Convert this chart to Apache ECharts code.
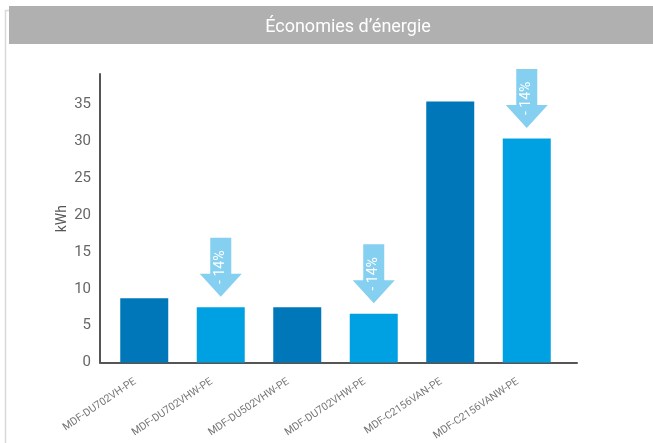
<!DOCTYPE html>
<html>
<head>
<meta charset="utf-8">
<script src="https://cdn.jsdelivr.net/npm/echarts@6/dist/echarts.min.js"></script>
<style>
html,body{margin:0;padding:0;background:#fff;}
#c{width:653px;height:443px;}
</style>
</head>
<body>
<div id="c"></div>
<script>
var categories = ['MDF-DU702VH-PE','MDF-DU702VHW-PE','MDF-DU502VHW-PE','MDF-DU702VHW-PE','MDF-C2156VAN-PE','MDF-C2156VANW-PE'];
var values = [8.7, 7.5, 7.5, 6.6, 35.4, 30.4];
var arrowValues = [null, 7.5, null, 6.6, null, 30.4];
var arrowLabels = ['', '- 14%', '', '- 14%', '', '- 14%'];
var yTicks = [0, 5, 10, 15, 20, 25, 30, 35];

var FONT = "'Liberation Sans Narrow', 'Roboto', sans-serif";
var chart = echarts.init(document.getElementById('c'));
var arrowPath = 'path://M10.5 0 L31.5 0 L31.5 36 L42 36 L21 59 L0 36 L10.5 36 Z';

chart.setOption({
  animation: false,
  backgroundColor: '#fff',
  graphic: [
    {type: 'polyline', shape: {points: [[9, 10.5], [5.5, 10.5], [5.5, 443]]}, style: {stroke: '#d9d9d9', lineWidth: 1.5, fill: null}, silent: true},
    {type: 'rect', shape: {x: 9, y: 6, width: 644, height: 38}, style: {fill: '#b0b0b0'}, silent: true},
    {type: 'text', x: 348, y: 27, style: {text: 'Économies d’énergie', fill: '#fff', font: '18px ' + FONT, align: 'center', verticalAlign: 'middle'}, silent: true}
  ],
  grid: [
    {left: 106, right: 88, top: 75, bottom: 80.5},
    {left: 100, right: 76, top: 74, bottom: 80.5}
  ],
  xAxis: [
    {type: 'category', gridIndex: 0, data: categories,
     axisLine: {show: false}, axisTick: {show: false},
     axisLabel: {rotate: 34, margin: 12, fontSize: 10.5, color: '#777', fontFamily: FONT, interval: 0, padding: [0, 11, 0, 0]}},
    {type: 'value', gridIndex: 1, min: 0, max: 1,
     axisLine: {show: true, lineStyle: {color: '#555', width: 2}}, axisTick: {show: false},
     axisLabel: {show: false}, splitLine: {show: false}}
  ],
  yAxis: [
    {type: 'value', gridIndex: 0, min: yTicks[0], max: 39, interval: yTicks[1] - yTicks[0],
     axisLine: {show: false}, axisTick: {show: false}, splitLine: {show: false},
     axisLabel: {showMaxLabel: false, margin: 15, fontSize: 15, color: '#666', fontFamily: FONT, padding: [4, 0, 0, 0],
       formatter: function (v) { return yTicks.indexOf(v) >= 0 ? String(v) : ''; }},
     name: 'kWh', nameLocation: 'middle', nameGap: 37, nameRotate: 90, nameMoveOverlap: false,
     nameTextStyle: {fontSize: 14, color: '#555', fontFamily: FONT}},
    {type: 'value', gridIndex: 1, min: 0, max: 1,
     axisLine: {show: true, lineStyle: {color: '#555', width: 2}}, axisTick: {show: false},
     axisLabel: {show: false}, splitLine: {show: false}}
  ],
  series: [
    {type: 'bar', xAxisIndex: 0, yAxisIndex: 0, data: values, barWidth: 48,
     itemStyle: {color: function (p) { return p.dataIndex % 2 === 0 ? '#0077b8' : '#00a1e3'; }}},
    {type: 'scatter', xAxisIndex: 0, yAxisIndex: 0, data: arrowValues,
     symbol: arrowPath, symbolSize: [42, 59], symbolKeepAspect: false, symbolOffset: [0, -40],
     itemStyle: {color: '#85cff0', opacity: 1},
     label: {show: true, position: 'inside', rotate: 90, color: '#fff', fontSize: 14, fontFamily: FONT,
       formatter: function (p) { return arrowLabels[p.dataIndex]; }},
     z: 5}
  ]
});
</script>
</body>
</html>
